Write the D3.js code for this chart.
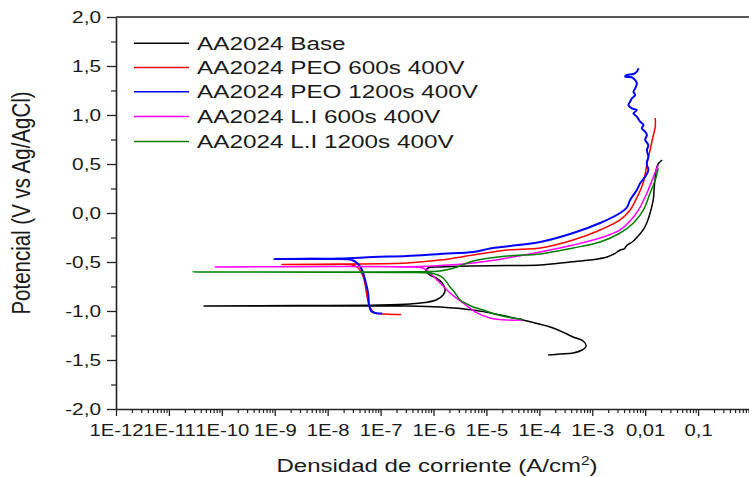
<!DOCTYPE html>
<html>
<head>
<meta charset="utf-8">
<script src="https://cdn.jsdelivr.net/npm/d3@7"></script>
<style>
  body { margin: 0; background: #fff; }
  svg { display: block; }
  text { font-family: "Liberation Sans", Arial, sans-serif; fill: #1a1a1a; }
</style>
</head>
<body>
<svg id="chart" width="749" height="477"></svg>
<script>
// Polarization curves: [current density (A/cm²), potential (V vs Ag/AgCl)] in sweep order
const baseData = [
  [1.47e-4,-1.449],[2.47e-4,-1.439],[4.36e-4,-1.429],[6.44e-4,-1.398],[7.67e-4,-1.357],[6.73e-4,-1.306],
  [4.36e-4,-1.265],[1.82e-4,-1.173],[5.87e-5,-1.102],[1.82e-5,-1.041],[5.61e-6,-0.990],[1.33e-6,-0.959],
  [3.17e-7,-0.949],[1.71e-8,-0.949],[4.61e-11,-0.949],[3.0e-9,-0.944],[9.8e-8,-0.939],[3.6e-7,-0.929],
  [6.9e-7,-0.913],[1.12e-6,-0.888],[1.52e-6,-0.837],[1.66e-6,-0.786],[1.46e-6,-0.714],[1.12e-6,-0.663],
  [8.6e-7,-0.633],[7.2e-7,-0.592],[7.9e-7,-0.561],[1.33e-6,-0.551],[4.9e-6,-0.541],[2.46e-5,-0.536],
  [1.04e-4,-0.531],[3.82e-4,-0.500],[9.1e-4,-0.480],[1.91e-3,-0.449],[2.6e-3,-0.418],[3.36e-3,-0.378],
  [4.0e-3,-0.367],[4.57e-3,-0.327],[5.68e-3,-0.296],[7.07e-3,-0.245],[9.17e-3,-0.173],[1.09e-2,-0.092],
  [1.24e-2,0.0],[1.42e-2,0.133],[1.48e-2,0.255],[1.55e-2,0.367],[1.61e-2,0.439],[1.76e-2,0.50],[2.09e-2,0.541]
];

const peo600Data = [
  [2.44e-7,-1.036],[1.22e-7,-1.031],[7.5e-8,-1.015],[6.07e-8,-0.939],[5.3e-8,-0.786],[4.9e-8,-0.684],
  [4.28e-8,-0.602],[3.6e-8,-0.551],[2.65e-8,-0.526],[1.11e-8,-0.526],[1.37e-9,-0.526],[1.71e-8,-0.521],
  [3.17e-7,-0.510],[1.33e-6,-0.480],[5.61e-6,-0.429],[2.46e-5,-0.378],[1.04e-4,-0.357],[4.36e-4,-0.276],
  [1.41e-3,-0.173],[3.36e-3,-0.071],[5.2e-3,0.031],[7.07e-3,0.163],[9.17e-3,0.306],[1.09e-2,0.510],
  [1.24e-2,0.643],[1.36e-2,0.745],[1.55e-2,0.878],[1.55e-2,0.969]
];

const peo1200Data = [
  [1.07e-7,-1.026],[7.9e-8,-1.020],[6.6e-8,-1.000],[6.07e-8,-0.939],[5.8e-8,-0.816],[5.1e-8,-0.684],
  [4.47e-8,-0.582],[3.76e-8,-0.520],[2.89e-8,-0.480],[1.11e-8,-0.469],[9.7e-10,-0.469],[1.71e-8,-0.464],
  [7.2e-8,-0.449],[3.17e-7,-0.439],[1.33e-6,-0.418],[5.61e-6,-0.398],[8.7e-6,-0.378],[1.17e-5,-0.362],
  [2.8e-5,-0.337],[1.04e-4,-0.296],[4.36e-4,-0.204],[1.41e-3,-0.102],[3.36e-3,0.0],[4.57e-3,0.061],
  [5.2e-3,0.133],[6.97e-3,0.235],[8.04e-3,0.303],[1.0e-2,0.370],[1.15e-2,0.439],[1.08e-2,0.490],
  [1.08e-2,0.523],[1.15e-2,0.574],[1.08e-2,0.643],[1.15e-2,0.694],[1.0e-2,0.745],[1.08e-2,0.796],
  [1.0e-2,0.830],[8.67e-3,0.864],[9.29e-3,0.898],[8.04e-3,0.932],[6.97e-3,0.983],[6.01e-3,1.017],
  [6.97e-3,1.051],[5.61e-3,1.068],[4.83e-3,1.102],[5.2e-3,1.136],[5.61e-3,1.170],[6.47e-3,1.204],
  [6.01e-3,1.238],[6.47e-3,1.272],[6.97e-3,1.323],[6.47e-3,1.357],[5.61e-3,1.385],[4.19e-3,1.391],
  [4.51e-3,1.408],[6.01e-3,1.418],[6.97e-3,1.442],[7.46e-3,1.477]
];

const li600Data = [
  [4.73e-5,-1.092],[2.46e-5,-1.092],[1.17e-5,-1.071],[6.67e-6,-1.020],[3.63e-6,-0.918],[2.06e-6,-0.816],
  [1.33e-6,-0.714],[8.6e-7,-0.612],[6.64e-7,-0.566],[2.34e-7,-0.551],[7.43e-11,-0.551],[1.71e-8,-0.546],
  [5.6e-7,-0.546],[1.33e-6,-0.536],[5.61e-6,-0.510],[2.46e-5,-0.459],[1.04e-4,-0.398],[4.36e-4,-0.327],
  [1.41e-3,-0.255],[3.36e-3,-0.173],[6.01e-3,-0.041],[8.04e-3,0.061],[1.08e-2,0.204],[1.36e-2,0.337],
  [1.55e-2,0.418],[1.76e-2,0.490]
];

const li1200Data = [
  [4.73e-5,-1.082],[2.46e-5,-1.061],[1.46e-5,-1.031],[8.7e-6,-0.990],[5.61e-6,-0.959],[3.95e-6,-0.918],
  [3.18e-6,-0.888],[2.56e-6,-0.816],[2.06e-6,-0.755],[1.52e-6,-0.663],[1.22e-6,-0.633],[8.6e-7,-0.612],
  [2.34e-7,-0.607],[2.86e-11,-0.602],[1.71e-8,-0.602],[8.6e-7,-0.597],[1.33e-6,-0.592],[2.79e-6,-0.551],
  [5.61e-6,-0.490],[2.46e-5,-0.439],[1.04e-4,-0.418],[4.36e-4,-0.357],[1.41e-3,-0.296],[3.36e-3,-0.204],
  [6.01e-3,-0.102],[9.29e-3,0.031],[1.24e-2,0.204],[1.55e-2,0.337],[1.69e-2,0.408],[1.76e-2,0.459]
];

const seriesNames = [
  "AA2024 Base",
  "AA2024 PEO 600s 400V",
  "AA2024 PEO 1200s 400V",
  "AA2024 L.I 600s 400V",
  "AA2024 L.I 1200s 400V"
];
const seriesColors = ["#000000", "#ff0000", "#0000ff", "#ff00ff", "#008000"];
const seriesData = [baseData, peo600Data, peo1200Data, li600Data, li1200Data];

// decade ticks; the last decade (1) sits past the right edge of the page and is left unlabelled
const xTickValues = [1e-12,1e-11,1e-10,1e-9,1e-8,1e-7,1e-6,1e-5,1e-4,1e-3,1e-2,1e-1,1];
const xTickLabels = ["1E-12","1E-11","1E-10","1E-9","1E-8","1E-7","1E-6","1E-5","1E-4","1E-3","0,01","0,1",""];
const yTickValues = [-2,-1.5,-1,-0.5,0,0.5,1,1.5,2];
const yTickLabels = ["-2,0","-1,5","-1,0","-0,5","0,0","0,5","1,0","1,5","2,0"];

const xTitle = "Densidad de corriente (A/cm";
const yTitle = "Potencial (V vs Ag/AgCl)";

// ---- layout ----
const plot = { left: 116, top: 17, right: 751, bottom: 409 };
const SX = 1.3;          // horizontal stretch applied to the lettering
const axisColor = "#222";

const svg = d3.select("#chart");

const x = d3.scaleLog().domain([1e-12, 1]).range([plot.left, plot.right]);
const y = d3.scaleLinear().domain([-2, 2]).range([plot.bottom, plot.top]);

// minor ticks: 2..9 within each decade, quarter steps on the potential axis
const xMinor = [];
for (let e = -12; e < 0; e++) for (let k = 2; k <= 9; k++) xMinor.push(k * Math.pow(10, e));
const yMinor = d3.range(-2, 2.001, 0.25).filter(v => Math.abs(v * 2 - Math.round(v * 2)) > 1e-6);

// ---- curves ----
const line = d3.line()
  .x(d => x(d[0]))
  .y(d => y(d[1]))
  .curve(d3.curveCatmullRom.alpha(0.5));

const curves = svg.append("g");
seriesData.forEach((data, i) => {
  curves.append("path")
    .datum(data)
    .attr("fill", "none")
    .attr("stroke", seriesColors[i])
    .attr("stroke-width", i === 2 ? 2 : 1.5)
    .attr("stroke-linejoin", "round")
    .attr("d", line);
});

// ---- axes ----
function styleAxis(g) {
  g.selectAll("path.domain").attr("stroke", axisColor).attr("stroke-width", 1.6);
  g.selectAll(".tick line").attr("stroke", axisColor).attr("stroke-width", 1.3);
}

// bottom
const gxMinor = svg.append("g")
  .attr("transform", `translate(0,${plot.bottom})`)
  .call(d3.axisBottom(x).tickValues(xMinor).tickSize(4).tickFormat(""));
gxMinor.select("path.domain").remove();
gxMinor.selectAll(".tick line").attr("stroke", axisColor).attr("stroke-width", 1.2);

const gx = svg.append("g")
  .attr("transform", `translate(0,${plot.bottom})`)
  .call(d3.axisBottom(x).tickValues(xTickValues).tickSize(7).tickSizeOuter(0)
    .tickFormat((d, i) => xTickLabels[i]));
styleAxis(gx);
gx.selectAll(".tick text")
  .attr("y", 0).attr("dy", 0)
  .attr("transform", `translate(0,27) scale(${SX},1)`)
  .style("font-size", "15.6px")
  .attr("fill", "#1a1a1a");

// left
const gyMinor = svg.append("g")
  .attr("transform", `translate(${plot.left},0)`)
  .call(d3.axisLeft(y).tickValues(yMinor).tickSize(5).tickFormat(""));
gyMinor.select("path.domain").remove();
gyMinor.selectAll(".tick line").attr("stroke", axisColor).attr("stroke-width", 1.2);

const gy = svg.append("g")
  .attr("transform", `translate(${plot.left},0)`)
  .call(d3.axisLeft(y).tickValues(yTickValues).tickSize(9).tickSizeOuter(0)
    .tickFormat((d, i) => yTickLabels[i]));
styleAxis(gy);
gy.selectAll(".tick text")
  .attr("x", 0).attr("dy", 0)
  .attr("transform", `translate(-15,5.5) scale(${SX},1)`)
  .style("font-size", "16px")
  .attr("fill", "#1a1a1a");

// top frame line
svg.append("line")
  .attr("x1", plot.left).attr("x2", plot.right)
  .attr("y1", plot.top).attr("y2", plot.top)
  .attr("stroke", axisColor).attr("stroke-width", 1.6);

// ---- axis titles ----
const xt = svg.append("text")
  .attr("transform", `translate(437,472) scale(${SX},1)`)
  .attr("text-anchor", "middle")
  .style("font-size", "18.5px")
  .text(xTitle);
xt.append("tspan").attr("dy", -7).style("font-size", "12px").text("2");
xt.append("tspan").attr("dy", 7).text(")");

svg.append("text")
  .attr("transform", `translate(30,203) scale(${SX},1) rotate(-90)`)
  .attr("text-anchor", "middle")
  .style("font-size", "20.5px")
  .text(yTitle);

// ---- legend ----
const legendRows = [43.3, 67.5, 91.8, 116.6, 141.5];
const legend = svg.append("g");
seriesNames.forEach((name, i) => {
  legend.append("line")
    .attr("x1", 134).attr("x2", 189)
    .attr("y1", legendRows[i]).attr("y2", legendRows[i])
    .attr("stroke", seriesColors[i]).attr("stroke-width", 1.5);
  legend.append("text")
    .attr("transform", `translate(197,${legendRows[i] + 6.5}) scale(${SX},1)`)
    .style("font-size", "18.7px")
    .text(name);
});
</script>
</body>
</html>
